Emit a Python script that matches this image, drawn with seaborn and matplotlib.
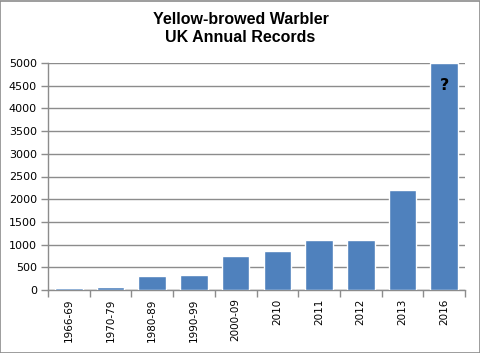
import numpy as np
import pandas as pd
import matplotlib
matplotlib.use("Agg")
import matplotlib.pyplot as plt
import seaborn as sns
from matplotlib.patches import Rectangle

# Données du graphique
periods = ["1966-69", "1970-79", "1980-89", "1990-99", "2000-09",
           "2010", "2011", "2012", "2013", "2016"]
records = [45, 70, 310, 330, 750, 860, 1100, 1100, 2200, 5000]
y_ticks = [0, 500, 1000, 1500, 2000, 2500, 3000, 3500, 4000, 4500, 5000]

df = pd.DataFrame({"Period": periods, "Records": records})

sns.set_theme(style="white")
plt.rcParams["font.family"] = ["DejaVu Sans"]
plt.rcParams["text.color"] = "black"
plt.rcParams["xtick.color"] = "black"
plt.rcParams["ytick.color"] = "black"

fig = plt.figure(figsize=(4.81, 3.53), dpi=100)
ax = fig.add_axes([48 / 481, 63 / 353, 417 / 481, 227 / 353])

sns.barplot(data=df, x="Period", y="Records", color="#4F81BD",
            saturation=1, width=0.66, ax=ax, zorder=3)

ax.set_ylim(0, 5000)
ax.set_xlim(-0.5, len(periods) - 0.5)
ax.set_yticks(y_ticks)
ax.set_yticklabels([str(t) for t in y_ticks], fontsize=8)
ax.yaxis.grid(True, color="#8c8c8c", linewidth=1, zorder=0)
ax.set_axisbelow(True)

# Graduations de l'axe x entre les catégories
ax.set_xticks(range(len(periods)))
ax.set_xticklabels(periods, rotation=90, fontsize=7.5)
ax.set_xticks(np.arange(-0.5, len(periods), 1), minor=True)
ax.tick_params(axis="x", which="major", length=0, pad=6, labelcolor="black")
ax.tick_params(axis="x", which="minor", length=5, color="#8c8c8c", width=1,
               bottom=True)
ax.tick_params(axis="y", length=5, color="#8c8c8c", width=1, left=True, pad=3,
               labelcolor="black")

for side in ["top", "right"]:
    ax.spines[side].set_visible(False)
for side in ["left", "bottom"]:
    ax.spines[side].set_color("#8c8c8c")
    ax.spines[side].set_linewidth(1)

ax.set_xlabel("")
ax.set_ylabel("")

ax.text(len(periods) - 1, 4500, "?", ha="center", va="center",
        fontsize=11.5, fontweight="bold", color="black", zorder=5)

fig.text(0.5, 1 - 20 / 353, "Yellow-browed Warbler", ha="center", va="center",
         fontsize=11.5, fontweight="bold", color="black", family=["Liberation Sans"])
fig.text(0.5, 1 - 38 / 353, "UK Annual Records", ha="center", va="center",
         fontsize=11.5, fontweight="bold", color="black", family=["Liberation Sans"])

# Cadre gris autour de la figure
fig.patches.append(Rectangle((0.001, 0.001), 0.997, 0.996, transform=fig.transFigure,
                             fill=False, edgecolor="#8c8c8c", linewidth=1.2))

fig.savefig("out.png", dpi=100)
